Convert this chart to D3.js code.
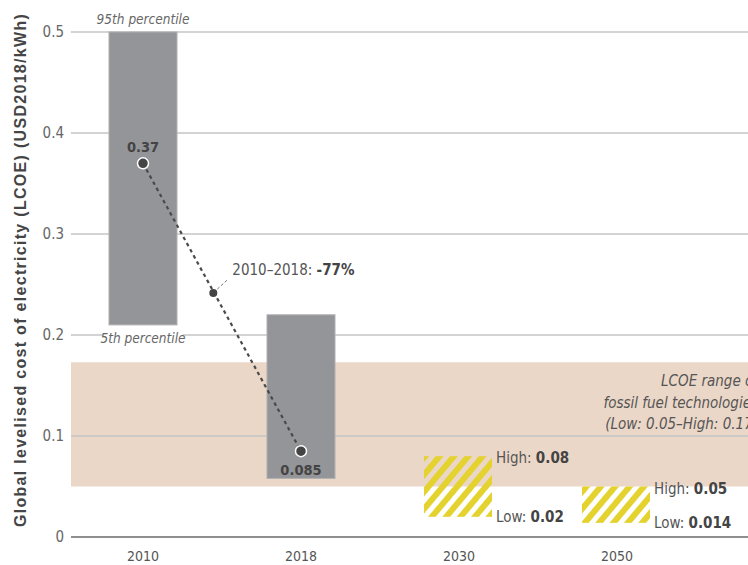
<!DOCTYPE html>
<html>
<head>
<meta charset="utf-8">
<script src="https://cdn.jsdelivr.net/npm/d3@7"></script>
<style>
  body { margin: 0; background: #fff; }
  svg { display: block; }
  .cond { font-family: "DejaVu Sans Condensed", "Roboto", sans-serif; }
</style>
</head>
<body>
<svg id="chart" width="748" height="565"></svg>
<script>
var years = ["2010", "2018", "2030", "2050"]
// 5th-95th percentile ranges (historic)
var barLow = [0.21, 0.058]
var barHigh = [0.5, 0.22]
// weighted averages
var avgValues = [0.37, 0.085]
var avgLabels = ["0.37", "0.085"]
// midpoint of the change line
var changePoint = { frac: 0.445, value: 0.2415, label: "-77%" }
// projected ranges
var projYears = ["2030", "2050"]
var projLow = [0.02, 0.014]
var projHigh = [0.08, 0.05]
var projLowLabels = ["0.02", "0.014"]
var projHighLabels = ["0.08", "0.05"]
// fossil fuel band
var fossilLow = 0.05
var fossilHigh = 0.173
var yTicks = [0, 0.1, 0.2, 0.3, 0.4, 0.5]

var svg = d3.select("#chart")

var x = d3.scaleBand().domain(years).range([64, 696])
var y = d3.scaleLinear().domain([0, 0.5]).range([537, 32])
var barW = 68

var defs = svg.append("defs")
var pat = defs.append("pattern")
    .attr("id", "hatch")
    .attr("patternUnits", "userSpaceOnUse")
    .attr("width", 11).attr("height", 11)
    .attr("patternTransform", "rotate(40)")
pat.append("rect").attr("width", 6).attr("height", 11).attr("fill", "#e4d22e")

// fossil band
svg.append("rect")
    .attr("x", 71).attr("width", 748 - 71)
    .attr("y", y(fossilHigh)).attr("height", y(fossilLow) - y(fossilHigh))
    .attr("fill", "#ebd7c7")

// grid
svg.selectAll(".grid").data(yTicks.slice(1)).enter().append("line")
    .attr("x1", 71).attr("x2", 748)
    .attr("y1", function(d) { return y(d) }).attr("y2", function(d) { return y(d) })
    .attr("stroke", "#c4c4c4").attr("stroke-width", 1.3)

svg.append("line")
    .attr("x1", 71).attr("x2", 748)
    .attr("y1", y(0)).attr("y2", y(0))
    .attr("stroke", "#6a6a6a").attr("stroke-width", 1.5)

// y tick labels
svg.selectAll(".ytick").data(yTicks).enter().append("text")
    .attr("class", "cond")
    .attr("x", 64).attr("y", function(d) { return y(d) + 5 })
    .attr("text-anchor", "end")
    .attr("font-size", 15).attr("fill", "#666")
    .text(function(d) { return d === 0 ? "0" : d3.format(".1f")(d) })

// x tick labels
svg.selectAll(".xtick").data(years).enter().append("text")
    .attr("class", "cond")
    .attr("x", function(d) { return x(d) + x.bandwidth() / 2 })
    .attr("y", 561)
    .attr("text-anchor", "middle")
    .attr("font-size", 14).attr("fill", "#555")
    .text(function(d) { return d })

// y title
svg.append("text")
    .attr("transform", "translate(26," + 270 + ") rotate(-90)")
    .attr("text-anchor", "middle")
    .attr("font-family", "Liberation Sans, Arial, sans-serif")
    .attr("font-weight", "bold")
    .attr("font-size", 16)
    .attr("letter-spacing", 1.3)
    .attr("fill", "#454545")
    .text("Global levelised cost of electricity (LCOE) (USD2018/kWh)")

// historic bars
var histYears = years.slice(0, 2)
svg.selectAll(".bar").data(histYears).enter().append("rect")
    .attr("x", function(d) { return x(d) + x.bandwidth() / 2 - barW / 2 })
    .attr("width", barW)
    .attr("y", function(d, i) { return y(barHigh[i]) })
    .attr("height", function(d, i) { return y(barLow[i]) - y(barHigh[i]) })
    .attr("fill", "#949598")
    .attr("stroke", "#b0b0b2").attr("stroke-width", 1)

// percentile labels
var cx0 = x("2010") + x.bandwidth() / 2
svg.append("text").attr("class", "cond")
    .attr("x", cx0).attr("y", y(0.5) - 8)
    .attr("text-anchor", "middle").attr("font-style", "italic")
    .attr("font-size", 13.5).attr("fill", "#666")
    .text("95th percentile")
svg.append("rect")
    .attr("x", cx0 - 40).attr("width", 80)
    .attr("y", y(0.2) - 6).attr("height", 12).attr("fill", "#fff")
svg.append("text").attr("class", "cond")
    .attr("x", cx0).attr("y", y(0.2) + 8)
    .attr("text-anchor", "middle").attr("font-style", "italic")
    .attr("font-size", 13.5).attr("fill", "#666")
    .text("5th percentile")

// projected hatched boxes
svg.selectAll(".proj").data(projYears).enter().append("rect")
    .attr("x", function(d) { return x(d) + x.bandwidth() / 2 - barW / 2 - 1 })
    .attr("width", barW)
    .attr("y", function(d, i) { return y(projHigh[i]) })
    .attr("height", function(d, i) { return y(projLow[i]) - y(projHigh[i]) })
    .attr("fill", "url(#hatch)")

function labelPair(sel, prefix, val) {
    sel.append("tspan").attr("fill", "#555").text(prefix)
    sel.append("tspan").attr("font-weight", "bold").attr("fill", "#444").text(val)
}
projYears.forEach(function(d, i) {
    var lx = x(d) + x.bandwidth() / 2 + barW / 2 + 3
    var t1 = svg.append("text").attr("class", "cond")
        .attr("x", lx).attr("y", y(projHigh[i]) + 7).attr("font-size", 15)
    labelPair(t1, "High: ", projHighLabels[i])
    var t2 = svg.append("text").attr("class", "cond")
        .attr("x", lx).attr("y", y(projLow[i]) + 5).attr("font-size", 15)
    labelPair(t2, "Low: ", projLowLabels[i])
})

// fossil text (runs off the right edge, as in the source)
var fossilLines = ["LCOE range of", "fossil fuel technologies", "(Low: 0.05\u2013High: 0.17)"]
svg.selectAll(".fossil").data(fossilLines).enter().append("text")
    .attr("class", "cond")
    .attr("x", 758).attr("y", function(d, i) { return 386 + i * 21.5 })
    .attr("text-anchor", "end").attr("font-style", "italic")
    .attr("font-size", 15).attr("fill", "#555")
    .text(function(d) { return d })

// change line
var pts = histYears.map(function(d, i) {
    return [x(d) + x.bandwidth() / 2, y(avgValues[i])]
})
svg.append("line")
    .attr("x1", pts[0][0]).attr("y1", pts[0][1])
    .attr("x2", pts[1][0]).attr("y2", pts[1][1])
    .attr("stroke", "#4a4a4a").attr("stroke-width", 2.2)
    .attr("stroke-dasharray", "3.5,3.5")

var mx = pts[0][0] + changePoint.frac * (pts[1][0] - pts[0][0])
var my = y(changePoint.value)
svg.append("line")
    .attr("x1", mx + 4).attr("y1", my - 4)
    .attr("x2", mx + 15).attr("y2", my - 14)
    .attr("stroke", "#777").attr("stroke-width", 1)
    .attr("stroke-dasharray", "3,2")
svg.append("circle").attr("cx", mx).attr("cy", my).attr("r", 4).attr("fill", "#444")
var ct = svg.append("text").attr("class", "cond")
    .attr("x", mx + 19).attr("y", my - 18).attr("font-size", 15)
labelPair(ct, "2010\u20132018: ", changePoint.label)

svg.selectAll(".avg").data(pts).enter().append("circle")
    .attr("cx", function(d) { return d[0] }).attr("cy", function(d) { return d[1] })
    .attr("r", 5.5).attr("fill", "#444")
    .attr("stroke", "#fff").attr("stroke-width", 1.5)

svg.append("text").attr("class", "cond")
    .attr("x", pts[0][0]).attr("y", pts[0][1] - 11)
    .attr("text-anchor", "middle").attr("font-weight", "bold")
    .attr("font-size", 14.5).attr("fill", "#444")
    .text(avgLabels[0])
svg.append("text").attr("class", "cond")
    .attr("x", pts[1][0]).attr("y", pts[1][1] + 24)
    .attr("text-anchor", "middle").attr("font-weight", "bold")
    .attr("font-size", 14.5).attr("fill", "#444")
    .text(avgLabels[1])
</script>
</body>
</html>
